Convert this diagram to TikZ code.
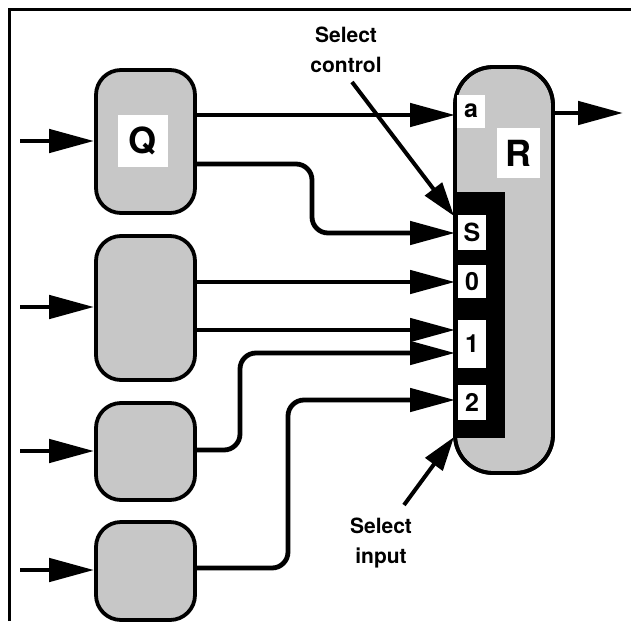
\documentclass[tikz,border=0pt]{standalone}
\usepackage{fontspec}
\setmainfont{TeX Gyre Heros}
\usetikzlibrary{arrows.meta}
\begin{document}
\begin{tikzpicture}[x=1pt,y=-1pt,
  blk/.style={draw=black,line width=3.8pt,fill=black!22,rounded corners=25pt,inner sep=0pt},
  wire/.style={line width=4.8pt,rounded corners=16pt,-{Triangle[length=45pt,width=23pt]}},
  ptr/.style={line width=4pt,-{Triangle[length=34pt,width=21pt]}},
  port/.style={fill=white,inner sep=0pt,font=\bfseries\fontsize{25}{25}\selectfont},
  lbl/.style={align=center,font=\bfseries\fontsize{21}{30}\selectfont}]
\useasboundingbox (0,0) rectangle (631,621);
% frame
\draw[line width=3pt] (9,621) -- (9,9) -- (631,9);
% boxes
\node[blk,minimum width=99pt,minimum height=143pt] (Q) at (145.5,141.5) {};
\node[blk,minimum width=99pt,minimum height=144pt] (B2) at (145.5,308) {};
\node[blk,minimum width=99pt,minimum height=97pt] (B3) at (145.5,451.5) {};
\node[blk,minimum width=99pt,minimum height=98pt] (B4) at (145.5,571) {};
\node[fill=white,minimum width=50pt,minimum height=52pt,inner sep=0pt,font=\bfseries\fontsize{36}{36}\selectfont] (Ql) at (143,141) {Q};
% R
\node[blk,rounded corners=38pt,minimum width=98pt,minimum height=406pt] (R) at (504,270) {};
\fill[black] (456,192) rectangle (505,438);
\draw[line width=3.8pt,rounded corners=38pt] (455,67) rectangle (553,473);
\node[fill=white,minimum width=43pt,minimum height=50pt,inner sep=0pt,font=\bfseries\fontsize{36}{36}\selectfont] (Rl) at (518.5,153) {R};
\node[port,minimum width=28pt,minimum height=33pt] (pa) at (471,111) {a};
\node[port,minimum width=28pt,minimum height=35pt] (pS) at (472,232.5) {S};
\node[port,minimum width=28pt,minimum height=33pt] (p0) at (472,281.5) {0};
\node[port,minimum width=28pt,minimum height=48pt] (p1) at (472,344) {1};
\node[port,minimum width=28pt,minimum height=35pt] (p2) at (472,402.5) {2};
% input coordinates
\coordinate (i1) at (20,141);
\coordinate (i2) at (20,307);
\coordinate (i3) at (20,451);
\coordinate (i4) at (20,570);
\draw[wire] (i1) -- (Q.west |- i1);
\draw[wire] (i2) -- (B2.west |- i2);
\draw[wire] (i3) -- (B3.west |- i3);
\draw[wire] (i4) -- (B4.west |- i4);
% connections
\draw[wire] (195,115) -- (455,115);
\draw[wire] (195,164) -- (312,164) -- (312,233) -- (455,233);
\draw[wire] (195,282) -- (455,282);
\draw[wire] (195,330) -- (455,330);
\draw[wire] (195,450) -- (240,450) -- (240,353) -- (455,353);
\draw[wire] (195,568) -- (288,568) -- (288,400) -- (455,400);
\coordinate (out) at (623,113);
\draw[wire] (553,113) -- (out);
% labels
\node[lbl] (selc) at (346,50) {Select\\control};
\node[lbl] (seli) at (381,543) {Select\\input};
\draw[ptr] (352,82) -- (454,216);
\draw[ptr] (404,505) -- (454,437);
\end{tikzpicture}
\end{document}
